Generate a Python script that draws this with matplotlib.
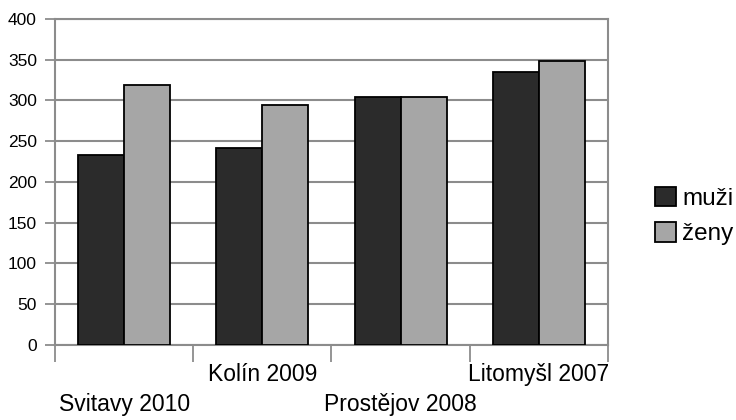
import matplotlib.pyplot as plt
import numpy as np

plt.rcParams['font.family'] = ['Liberation Sans', 'DejaVu Sans']

categories = ['Svitavy 2010', 'Kolín 2009', 'Prostějov 2008', 'Litomyšl 2007']
muzi = [233, 242, 304, 335]
zeny = [319, 294, 304, 348]
yticks = [0, 50, 100, 150, 200, 250, 300, 350, 400]

fig = plt.figure(figsize=(7.36, 4.2), dpi=100)
ax = fig.add_axes([0.0747, 0.1786, 0.7513, 0.7764])

x = np.arange(len(categories))
w = 0.333
ax.bar(x - w / 2, muzi, w, color='#2b2b2b', edgecolor='black', linewidth=1.3, label='muži', zorder=3)
ax.bar(x + w / 2, zeny, w, color='#a6a6a6', edgecolor='black', linewidth=1.3, label='ženy', zorder=3)

ax.set_xlim(-0.5, len(categories) - 0.5)
ax.set_ylim(0, 400)
ax.set_yticks(yticks)
ax.set_yticklabels([str(v) for v in yticks], fontsize=12.5)
ax.yaxis.grid(True, color='#8c8c8c', linewidth=1.5, zorder=0)

# staggered category labels (odd ones up, even ones down), ticks at boundaries
ax.set_xticks([])
for i, c in enumerate(categories):
    yy = -0.092 if i % 2 else -0.181
    ax.text(x[i], yy, c, transform=ax.get_xaxis_transform(), ha='center', va='center',
            fontsize=16.5)
ax.set_xticks(np.arange(-0.5, len(categories)), minor=True)
ax.tick_params(axis='x', which='minor', length=12, width=1.3, color='#8c8c8c', direction='out')
ax.tick_params(axis='y', length=7, width=1.3, color='#8c8c8c', pad=6)

for s in ax.spines.values():
    s.set_color('#8c8c8c')
    s.set_linewidth(1.5)

ax.legend(loc='center left', bbox_to_anchor=(1.046, 0.395), frameon=False, fontsize=17.5,
          handlelength=0.85, handleheight=0.85, handletextpad=0.25, labelspacing=0.5)

fig.savefig('out.png', dpi=100)
